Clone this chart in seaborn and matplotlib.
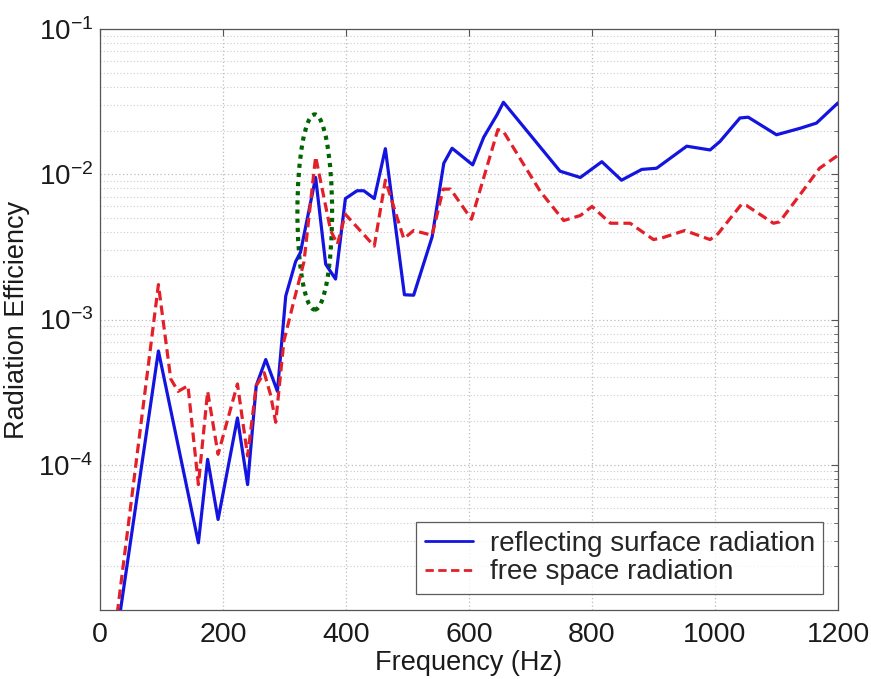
import numpy as np
import pandas as pd
import matplotlib
matplotlib.use("Agg")
import matplotlib.pyplot as plt
import seaborn as sns
from matplotlib.patches import Ellipse
from matplotlib.ticker import FixedLocator, LogLocator, NullFormatter

# ---- data ----
freq_reflect = [30, 95, 160, 175, 192, 223.5, 240, 254, 269.5, 288.5, 302, 318, 326,
                350.6, 367, 383, 399, 418, 429, 446, 464, 495, 510, 540, 559, 572.5,
                606, 624, 645.6, 656, 748, 781, 816, 848, 881, 905, 954, 992, 1008,
                1040.6, 1054, 1100, 1138, 1165, 1200]
eff_reflect = [8.0e-6, 6.07e-4, 2.9e-5, 1.09e-4, 4.2e-5, 2.1e-4, 7.3e-5, 3.5e-4, 5.3e-4,
               3.2e-4, 1.45e-3, 2.5e-3, 2.9e-3, 9.5e-3, 2.4e-3, 1.9e-3, 6.8e-3, 7.7e-3,
               7.7e-3, 6.8e-3, 1.5e-2, 1.48e-3, 1.47e-3, 3.7e-3, 1.19e-2, 1.51e-2,
               1.16e-2, 1.8e-2, 2.57e-2, 3.13e-2, 1.05e-2, 9.5e-3, 1.22e-2, 9.1e-3,
               1.08e-2, 1.1e-2, 1.56e-2, 1.47e-2, 1.68e-2, 2.44e-2, 2.47e-2, 1.87e-2,
               2.07e-2, 2.25e-2, 3.1e-2]

freq_free = [25, 95, 115, 127, 143, 160, 175, 192, 223.5, 240, 254, 267, 277.6, 285.7,
             299, 315, 331.7, 350.6, 375, 386, 399, 446, 464, 494, 510, 540, 558, 570,
             604, 647, 656, 716, 754, 781, 800, 830, 862, 900, 916, 951, 992, 1005,
             1043, 1051, 1095, 1105, 1143, 1170, 1200]
eff_free = [7.5e-6, 1.74e-3, 3.9e-4, 3.2e-4, 3.5e-4, 7.3e-5, 3.2e-4, 1.18e-4, 3.6e-4,
            1.15e-4, 3.5e-4, 4.3e-4, 3.0e-4, 1.96e-4, 7.1e-4, 1.33e-3, 2.5e-3, 1.32e-2,
            4.1e-3, 3.3e-3, 5.3e-3, 3.2e-3, 9.1e-3, 3.6e-3, 4.1e-3, 3.8e-3, 7.9e-3,
            7.9e-3, 4.9e-3, 2.03e-2, 1.97e-2, 7.6e-3, 4.8e-3, 5.2e-3, 6.0e-3, 4.6e-3,
            4.6e-3, 3.55e-3, 3.67e-3, 4.1e-3, 3.55e-3, 3.9e-3, 6.2e-3, 6.1e-3, 4.6e-3,
            4.7e-3, 7.7e-3, 1.1e-2, 1.35e-2]

x_ticks = [0, 200, 400, 600, 800, 1000, 1200]
y_ticks = [1e-4, 1e-3, 1e-2, 1e-1]
y_tick_labels = ["$10^{-4}$", "$10^{-3}$", "$10^{-2}$", "$10^{-1}$"]
label_reflect = "reflecting surface radiation"
label_free = "free space radiation"

# ---- style ----
sns.set_style("white")
plt.rcParams["font.family"] = ["Liberation Sans", "DejaVu Sans"]
plt.rcParams["mathtext.fontset"] = "custom"
plt.rcParams["mathtext.rm"] = "Liberation Sans"
plt.rcParams["mathtext.it"] = "Liberation Sans"
plt.rcParams["mathtext.default"] = "regular"

fig = plt.figure(figsize=(8.71, 6.79), dpi=100)
ax = fig.add_axes([100 / 871, 69 / 679, 738 / 871, 581 / 679])

df_r = pd.DataFrame({"f": freq_reflect, "e": eff_reflect})
df_f = pd.DataFrame({"f": freq_free, "e": eff_free})

sns.lineplot(data=df_r, x="f", y="e", ax=ax, color="#1414e0", lw=2.3,
             label=label_reflect, sort=False, estimator=None)
sns.lineplot(data=df_f, x="f", y="e", ax=ax, color="#e3202a", lw=2.3,
             linestyle=(0, (3, 1.6)), label=label_free, sort=False, estimator=None)

ax.set_yscale("log")
ax.set_xlim(0, 1200)
ax.set_ylim(1e-5, 1e-1)
ax.set_xticks(x_ticks)
ax.set_xticklabels([str(t) for t in x_ticks], fontsize=20.5, color="#1a1a1a")
ax.yaxis.set_major_locator(FixedLocator(y_ticks))
ax.set_yticklabels(y_tick_labels, fontsize=20, color="#1a1a1a")
ax.yaxis.set_minor_locator(LogLocator(base=10, subs=np.arange(2, 10) * 1.0, numticks=20))
ax.yaxis.set_minor_formatter(NullFormatter())

ax.tick_params(axis="both", which="both", direction="in", top=True, right=True,
               colors="#555555", labelcolor="#1a1a1a")
ax.tick_params(axis="both", which="major", length=5, width=0.8, pad=5)
ax.tick_params(axis="x", which="major", pad=9)
ax.tick_params(axis="y", which="minor", length=3, width=0.6)

ax.grid(True, which="major", color="#bcbcbc", linestyle=(0, (1, 2)), linewidth=0.9)
ax.grid(True, which="minor", axis="y", color="#cccccc", linestyle=(0, (1, 2)), linewidth=0.8)
ax.set_axisbelow(True)
for s in ax.spines.values():
    s.set_color("#555555")
    s.set_linewidth(0.9)

ax.set_xlabel("Frequency (Hz)", fontsize=19.5, color="#1a1a1a", labelpad=1)
ax.set_ylabel("Radiation Efficiency", fontsize=19.5, color="#1a1a1a", labelpad=6)

# green dotted ellipse highlighting the peak
ell = Ellipse((0.291, 0.685), 0.047, 0.336, transform=ax.transAxes, fill=False,
              edgecolor="#006400", linestyle=(0, (1, 1.2)), linewidth=3)
ax.add_patch(ell)

leg = ax.legend(loc="lower right", bbox_to_anchor=(0.98, 0.028), fontsize=20,
                frameon=True, fancybox=False, handlelength=1.75, borderpad=0.3,
                labelspacing=0.1, handletextpad=0.6, borderaxespad=0)
leg.get_frame().set_edgecolor("#333333")
leg.get_frame().set_linewidth(0.9)
for h in leg.get_lines():
    h.set_linewidth(2.0)

fig.savefig("out.png", dpi=100)
